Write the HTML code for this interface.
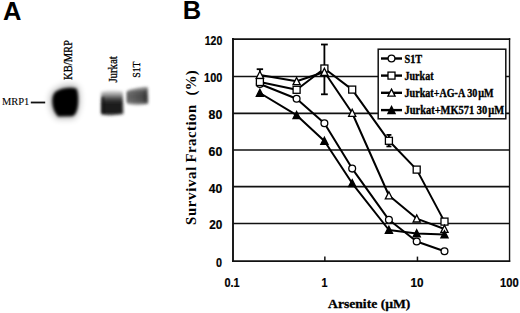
<!DOCTYPE html>
<html><head><meta charset="utf-8"><style>
html,body{margin:0;padding:0;background:#fff;}
body{width:520px;height:313px;overflow:hidden;font-family:"Liberation Sans",sans-serif;}
svg{display:block;}
</style></head><body>
<svg width="520" height="313" viewBox="0 0 520 313">
<text x="3" y="20.3" font-family="Liberation Sans" font-weight="bold" font-size="25.5">A</text>
<text x="182.8" y="19.3" font-family="Liberation Sans" font-weight="bold" font-size="25.5">B</text>
<defs>
<filter id="b1" x="-50%" y="-50%" width="200%" height="200%"><feGaussianBlur stdDeviation="1.6"/></filter>
<filter id="b2" x="-50%" y="-50%" width="200%" height="200%"><feGaussianBlur stdDeviation="2.2"/></filter>
<filter id="b0" x="-50%" y="-50%" width="200%" height="200%"><feGaussianBlur stdDeviation="1"/></filter>
<filter id="b3" x="-50%" y="-50%" width="200%" height="200%"><feGaussianBlur stdDeviation="3"/></filter>
<linearGradient id="gj" x1="0" y1="0" x2="0" y2="1"><stop offset="0" stop-color="#dcdcdc"/><stop offset="0.15" stop-color="#a0a0a0"/><stop offset="0.32" stop-color="#4a4a4a"/><stop offset="0.5" stop-color="#1c1c1c"/><stop offset="0.9" stop-color="#1c1c1c"/><stop offset="1" stop-color="#333"/></linearGradient>
<linearGradient id="gs" x1="0" y1="0" x2="1" y2="0"><stop offset="0" stop-color="#6a6a6a"/><stop offset="0.7" stop-color="#4a4a4a"/><stop offset="1" stop-color="#252525"/></linearGradient>
<linearGradient id="gs2" x1="0" y1="0" x2="0" y2="1"><stop offset="0" stop-color="#fff" stop-opacity="0.45"/><stop offset="0.3" stop-color="#fff" stop-opacity="0"/><stop offset="0.55" stop-color="#000" stop-opacity="0.12"/><stop offset="0.8" stop-color="#fff" stop-opacity="0"/><stop offset="1" stop-color="#fff" stop-opacity="0.3"/></linearGradient>
</defs>
<path d="M57,88 C63,84 73,83 78,86.5 C81,92 81,106 78.5,111 C77,116 75,119 72,119 L57,119 C53,115 49.5,109 49.5,101 C49.5,94 52,89.5 57,88 Z" fill="#000" opacity="0.25" filter="url(#b3)"/>
<path d="M58,90.5 C63,87.5 72,87 76.5,88.8 C78.8,93 78.8,105 77,110 C75.8,113.5 74.5,115.8 72,116.3 L58,116.5 C55,113 52.3,108 52.3,101 C52.3,95 54.5,91.8 58,90.5 Z" fill="#050505" filter="url(#b1)"/>
<path d="M101.2,92 Q112,89.5 122.8,91.5 L123.2,114 Q112,116 101.2,114.5 Z" fill="url(#gj)" filter="url(#b1)"/>
<rect x="101.6" y="97" width="2.6" height="16" fill="#000" opacity="0.5" filter="url(#b0)"/>
<path d="M127,91 Q137,87.5 147.5,87.5 L148,103.5 Q137,105.5 127,103.5 Z" fill="url(#gs)" filter="url(#b1)"/>
<path d="M127,91 Q137,87.5 147.5,87.5 L148,103.5 Q137,105.5 127,103.5 Z" fill="url(#gs2)" filter="url(#b1)"/>
<rect x="126.6" y="92" width="2" height="10" fill="#000" opacity="0.25" filter="url(#b0)"/>
<text stroke="#000" stroke-width="0.3" transform="translate(71.5,80) rotate(-90)" font-family="Liberation Serif" font-weight="normal" font-size="12.3" textLength="40" lengthAdjust="spacingAndGlyphs">KB/MRP</text>
<text stroke="#000" stroke-width="0.3" transform="translate(116.5,82.6) rotate(-90)" font-family="Liberation Serif" font-weight="normal" font-size="11.6" textLength="26.4" lengthAdjust="spacingAndGlyphs">Jurkat</text>
<text stroke="#000" stroke-width="0.3" transform="translate(140.4,77.8) rotate(-90)" font-family="Liberation Serif" font-weight="normal" font-size="10.5" textLength="16.4" lengthAdjust="spacingAndGlyphs">S1T</text>
<text x="1.9" y="104.9" font-family="Liberation Serif" font-size="11.3" textLength="27.4" lengthAdjust="spacingAndGlyphs" stroke="#000" stroke-width="0.1">MRP1</text>
<line x1="30.8" y1="102.5" x2="45.2" y2="102.5" stroke="#111" stroke-width="1.8"/>
<line x1="233" y1="76.5" x2="509.6" y2="76.5" stroke="#111" stroke-width="1.7"/>
<line x1="233" y1="113.3" x2="509.6" y2="113.3" stroke="#111" stroke-width="1.7"/>
<line x1="233" y1="150" x2="509.6" y2="150" stroke="#111" stroke-width="1.7"/>
<line x1="233" y1="186.7" x2="509.6" y2="186.7" stroke="#111" stroke-width="1.7"/>
<line x1="233" y1="223.5" x2="509.6" y2="223.5" stroke="#111" stroke-width="1.7"/>
<line x1="232" y1="39" x2="510.2" y2="39" stroke="#111" stroke-width="1.75"/>
<line x1="232" y1="261" x2="510.2" y2="261" stroke="#111" stroke-width="1.75"/>
<line x1="233" y1="38.1" x2="233" y2="261.9" stroke="#111" stroke-width="1.9"/>
<line x1="509.55" y1="38.1" x2="509.55" y2="261.9" stroke="#111" stroke-width="1.4"/>
<line x1="324.85" y1="256.6" x2="324.85" y2="261" stroke="#111" stroke-width="1.5"/>
<line x1="417.45" y1="256.6" x2="417.45" y2="261" stroke="#111" stroke-width="1.5"/>
<polyline points="259.89,84.00 296.61,98.80 324.40,123.20 352.19,168.60 388.91,219.80 416.70,241.50 444.49,251.30" fill="none" stroke="#000" stroke-width="2.0" stroke-linejoin="round"/>
<polyline points="259.89,82.00 296.61,89.80 324.40,68.50 352.19,89.60 388.91,140.80 416.70,169.60 444.49,221.60" fill="none" stroke="#000" stroke-width="2.0" stroke-linejoin="round"/>
<polyline points="259.89,74.90 296.61,81.20 324.40,72.00 352.19,113.00 388.91,195.50 416.70,218.60 444.49,229.00" fill="none" stroke="#000" stroke-width="2.0" stroke-linejoin="round"/>
<polyline points="259.89,93.00 296.61,115.20 324.40,141.00 352.19,183.30 388.91,230.00 416.70,233.50 444.49,234.50" fill="none" stroke="#000" stroke-width="2.0" stroke-linejoin="round"/>
<line x1="324.40" y1="44.5" x2="324.40" y2="94.3" stroke="#000" stroke-width="1.8"/><line x1="321.00" y1="44.5" x2="327.80" y2="44.5" stroke="#000" stroke-width="1.8"/><line x1="321.00" y1="94.3" x2="327.80" y2="94.3" stroke="#000" stroke-width="1.8"/>
<line x1="388.91" y1="134.9" x2="388.91" y2="146.4" stroke="#000" stroke-width="1.8"/><line x1="386.41" y1="134.9" x2="391.41" y2="134.9" stroke="#000" stroke-width="1.8"/><line x1="386.41" y1="146.4" x2="391.41" y2="146.4" stroke="#000" stroke-width="1.8"/>
<line x1="259.89" y1="69.2" x2="259.89" y2="78" stroke="#000" stroke-width="1.8"/><line x1="256.69" y1="69.2" x2="263.09" y2="69.2" stroke="#000" stroke-width="1.8"/><line x1="256.69" y1="78" x2="263.09" y2="78" stroke="#000" stroke-width="1.8"/>
<circle cx="259.89" cy="84.00" r="3.4" fill="#fff" stroke="#000" stroke-width="1.3"/>
<circle cx="296.61" cy="98.80" r="3.4" fill="#fff" stroke="#000" stroke-width="1.3"/>
<circle cx="324.40" cy="123.20" r="3.4" fill="#fff" stroke="#000" stroke-width="1.3"/>
<circle cx="352.19" cy="168.60" r="3.4" fill="#fff" stroke="#000" stroke-width="1.3"/>
<circle cx="388.91" cy="219.80" r="3.4" fill="#fff" stroke="#000" stroke-width="1.3"/>
<circle cx="416.70" cy="241.50" r="3.4" fill="#fff" stroke="#000" stroke-width="1.3"/>
<circle cx="444.49" cy="251.30" r="3.4" fill="#fff" stroke="#000" stroke-width="1.3"/>
<rect x="256.39" y="78.50" width="7" height="7" fill="#fff" stroke="#000" stroke-width="1.3"/>
<rect x="293.11" y="86.30" width="7" height="7" fill="#fff" stroke="#000" stroke-width="1.3"/>
<rect x="320.90" y="65.00" width="7" height="7" fill="#fff" stroke="#000" stroke-width="1.3"/>
<rect x="348.69" y="86.10" width="7" height="7" fill="#fff" stroke="#000" stroke-width="1.3"/>
<rect x="385.41" y="137.30" width="7" height="7" fill="#fff" stroke="#000" stroke-width="1.3"/>
<rect x="413.20" y="166.10" width="7" height="7" fill="#fff" stroke="#000" stroke-width="1.3"/>
<rect x="440.99" y="218.10" width="7" height="7" fill="#fff" stroke="#000" stroke-width="1.3"/>
<path d="M259.89,71.20 L263.49,78.30 L256.29,78.30 Z" fill="#fff" stroke="#000" stroke-width="1.3" stroke-linejoin="miter"/>
<path d="M296.61,77.50 L300.21,84.60 L293.01,84.60 Z" fill="#fff" stroke="#000" stroke-width="1.3" stroke-linejoin="miter"/>
<path d="M324.40,68.30 L328.00,75.40 L320.80,75.40 Z" fill="#fff" stroke="#000" stroke-width="1.3" stroke-linejoin="miter"/>
<path d="M352.19,109.30 L355.79,116.40 L348.59,116.40 Z" fill="#fff" stroke="#000" stroke-width="1.3" stroke-linejoin="miter"/>
<path d="M388.91,191.80 L392.51,198.90 L385.31,198.90 Z" fill="#fff" stroke="#000" stroke-width="1.3" stroke-linejoin="miter"/>
<path d="M416.70,214.90 L420.30,222.00 L413.10,222.00 Z" fill="#fff" stroke="#000" stroke-width="1.3" stroke-linejoin="miter"/>
<path d="M444.49,225.30 L448.09,232.40 L440.89,232.40 Z" fill="#fff" stroke="#000" stroke-width="1.3" stroke-linejoin="miter"/>
<path d="M259.89,89.30 L263.49,96.40 L256.29,96.40 Z" fill="#000" stroke="#000" stroke-width="1.3" stroke-linejoin="miter"/>
<path d="M296.61,111.50 L300.21,118.60 L293.01,118.60 Z" fill="#000" stroke="#000" stroke-width="1.3" stroke-linejoin="miter"/>
<path d="M324.40,137.30 L328.00,144.40 L320.80,144.40 Z" fill="#000" stroke="#000" stroke-width="1.3" stroke-linejoin="miter"/>
<path d="M352.19,179.60 L355.79,186.70 L348.59,186.70 Z" fill="#000" stroke="#000" stroke-width="1.3" stroke-linejoin="miter"/>
<path d="M388.91,226.30 L392.51,233.40 L385.31,233.40 Z" fill="#000" stroke="#000" stroke-width="1.3" stroke-linejoin="miter"/>
<path d="M416.70,229.80 L420.30,236.90 L413.10,236.90 Z" fill="#000" stroke="#000" stroke-width="1.3" stroke-linejoin="miter"/>
<path d="M444.49,230.80 L448.09,237.90 L440.89,237.90 Z" fill="#000" stroke="#000" stroke-width="1.3" stroke-linejoin="miter"/>
<rect x="378.2" y="49.2" width="127.6" height="69.6" fill="#fff" stroke="#111" stroke-width="1.5"/>
<line x1="381" y1="58.5" x2="402" y2="58.5" stroke="#000" stroke-width="2.4"/>
<circle cx="391.50" cy="58.50" r="3.4" fill="#fff" stroke="#000" stroke-width="1.3"/>
<text x="404.5" y="62.7" font-family="Liberation Serif" font-weight="bold" font-size="11.8" textLength="17.7" lengthAdjust="spacingAndGlyphs" stroke="#000" stroke-width="0.35">S1T</text>
<line x1="381" y1="75.6" x2="402" y2="75.6" stroke="#000" stroke-width="2.4"/>
<rect x="388.00" y="72.10" width="7" height="7" fill="#fff" stroke="#000" stroke-width="1.3"/>
<text x="404.5" y="79.8" font-family="Liberation Serif" font-weight="bold" font-size="11.8" textLength="29" lengthAdjust="spacingAndGlyphs" stroke="#000" stroke-width="0.35">Jurkat</text>
<line x1="381" y1="92.8" x2="402" y2="92.8" stroke="#000" stroke-width="2.4"/>
<path d="M391.50,89.10 L395.10,96.20 L387.90,96.20 Z" fill="#fff" stroke="#000" stroke-width="1.3" stroke-linejoin="miter"/>
<text x="404.5" y="97.0" font-family="Liberation Serif" font-weight="bold" font-size="11.8" textLength="89" lengthAdjust="spacingAndGlyphs" stroke="#000" stroke-width="0.35">Jurkat+AG-A 30&#8202;µM</text>
<line x1="381" y1="110.1" x2="402" y2="110.1" stroke="#000" stroke-width="2.4"/>
<path d="M391.50,106.40 L395.10,113.50 L387.90,113.50 Z" fill="#000" stroke="#000" stroke-width="1.3" stroke-linejoin="miter"/>
<text x="404.5" y="114.3" font-family="Liberation Serif" font-weight="bold" font-size="11.8" textLength="99.5" lengthAdjust="spacingAndGlyphs" stroke="#000" stroke-width="0.35">Jurkat+MK571 30&#8202;µM</text>
<text x="222.3" y="44.7" text-anchor="end" font-family="Liberation Sans" font-weight="bold" font-size="12.9" textLength="17.6" lengthAdjust="spacingAndGlyphs" stroke="#000" stroke-width="0.2">120</text>
<text x="222.3" y="81.8" text-anchor="end" font-family="Liberation Sans" font-weight="bold" font-size="12.9" textLength="18.2" lengthAdjust="spacingAndGlyphs" stroke="#000" stroke-width="0.2">100</text>
<text x="222.3" y="119.2" text-anchor="end" font-family="Liberation Sans" font-weight="bold" font-size="12.9" textLength="13.7" lengthAdjust="spacingAndGlyphs" stroke="#000" stroke-width="0.2">80</text>
<text x="222.3" y="155.6" text-anchor="end" font-family="Liberation Sans" font-weight="bold" font-size="12.9" textLength="13.7" lengthAdjust="spacingAndGlyphs" stroke="#000" stroke-width="0.2">60</text>
<text x="222.3" y="192.5" text-anchor="end" font-family="Liberation Sans" font-weight="bold" font-size="12.9" textLength="13.5" lengthAdjust="spacingAndGlyphs" stroke="#000" stroke-width="0.2">40</text>
<text x="222.3" y="229.4" text-anchor="end" font-family="Liberation Sans" font-weight="bold" font-size="12.9" textLength="13.1" lengthAdjust="spacingAndGlyphs" stroke="#000" stroke-width="0.2">20</text>
<text x="222.1" y="266.7" text-anchor="end" font-family="Liberation Sans" font-weight="bold" font-size="12.9" textLength="6.0" lengthAdjust="spacingAndGlyphs" stroke="#000" stroke-width="0.2">0</text>
<text x="232" y="287.4" text-anchor="middle" font-family="Liberation Sans" font-weight="bold" font-size="12.9" textLength="15.2" lengthAdjust="spacingAndGlyphs" stroke="#000" stroke-width="0.2">0.1</text>
<text x="324.5" y="287.4" text-anchor="middle" font-family="Liberation Sans" font-weight="bold" font-size="12.9" textLength="6" lengthAdjust="spacingAndGlyphs" stroke="#000" stroke-width="0.2">1</text>
<text x="417.1" y="287.4" text-anchor="middle" font-family="Liberation Sans" font-weight="bold" font-size="12.9" textLength="13" lengthAdjust="spacingAndGlyphs" stroke="#000" stroke-width="0.2">10</text>
<text x="509.3" y="287.4" text-anchor="middle" font-family="Liberation Sans" font-weight="bold" font-size="12.9" textLength="18.7" lengthAdjust="spacingAndGlyphs" stroke="#000" stroke-width="0.2">100</text>
<text x="328.1" y="307.9" font-family="Liberation Serif" font-weight="bold" font-size="13.2" textLength="82.3" lengthAdjust="spacingAndGlyphs" stroke="#000" stroke-width="0.3">Arsenite (µM)</text>
<text transform="translate(195.6,225) rotate(-90)" font-family="Liberation Serif" font-weight="bold" font-size="14.8" textLength="58.3" lengthAdjust="spacing">Survival</text>
<text transform="translate(195.6,162.6) rotate(-90)" font-family="Liberation Serif" font-weight="bold" font-size="14.8" textLength="57.8" lengthAdjust="spacing">Fraction</text>
<text transform="translate(195.6,95.4) rotate(-90)" font-family="Liberation Serif" font-weight="bold" font-size="14.8" textLength="25.2" lengthAdjust="spacing">(%)</text>
</svg>
</body></html>
